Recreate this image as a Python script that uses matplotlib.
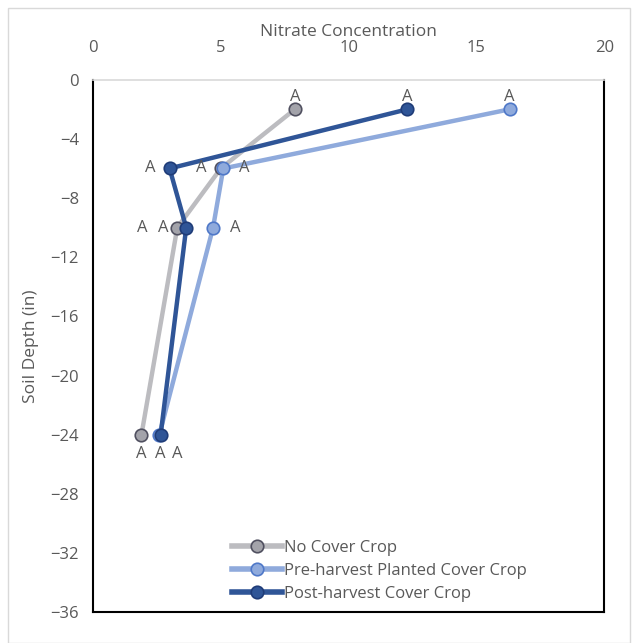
import matplotlib.pyplot as plt
from matplotlib.patches import Rectangle

# soil depth (in) and nitrate concentration for each treatment
depth = [-2, -6, -10, -24]
no_cover = [7.9, 5.0, 3.3, 1.9]
pre_harvest = [16.3, 5.1, 4.7, 2.6]
post_harvest = [12.3, 3.0, 3.65, 2.65]

series_names = ["No Cover Crop", "Pre-harvest Planted Cover Crop", "Post-harvest Cover Crop"]
letters = ["A", "A", "A", "A"]

text_color = "#595959"
plt.rcParams['font.family'] = ['Open Sans', 'DejaVu Sans']

fig = plt.figure(figsize=(6.32, 6.43), dpi=100)
ax = fig.add_axes([0.147, 0.048, 0.809, 0.828])

fig.patches.append(Rectangle((0.012, 0.0), 0.985, 0.987, transform=fig.transFigure,
                             fill=False, edgecolor="#d9d9d9", linewidth=1))

ax.plot(no_cover, depth, color="#bcbcc0", linewidth=3.2, marker="o", markersize=9,
        markerfacecolor="#a3a3aa", markeredgecolor="#505060", markeredgewidth=1.2,
        label=series_names[0], zorder=3)
ax.plot(pre_harvest, depth, color="#8faadc", linewidth=3.2, marker="o", markersize=9,
        markerfacecolor="#8faadc", markeredgecolor="#4f78c8", markeredgewidth=1.2,
        label=series_names[1], zorder=4)
ax.plot(post_harvest, depth, color="#2f5597", linewidth=3.2, marker="o", markersize=9,
        markerfacecolor="#2f5597", markeredgecolor="#1f3c78", markeredgewidth=1.2,
        label=series_names[2], zorder=5)

lab = dict(color=text_color, fontsize=12, zorder=6)
# -2 in: letters above markers
for xs in (no_cover, pre_harvest, post_harvest):
    ax.annotate(letters[0], (xs[0], depth[0]), xytext=(0, 3), textcoords="offset points",
                ha="center", va="bottom", **lab)
# -6 in
ax.annotate(letters[1], (post_harvest[1], depth[1]), xytext=(-14, 0), textcoords="offset points",
            ha="center", va="center", **lab)
ax.annotate(letters[1], (no_cover[1], depth[1]), xytext=(-14, 0), textcoords="offset points",
            ha="center", va="center", **lab)
ax.annotate(letters[1], (pre_harvest[1], depth[1]), xytext=(15, 0), textcoords="offset points",
            ha="center", va="center", **lab)
# -10 in
ax.annotate(letters[2], (no_cover[2], depth[2]), xytext=(-10, 0), textcoords="offset points",
            ha="center", va="center", **lab)
ax.annotate(letters[2], (post_harvest[2], depth[2]), xytext=(-32, 0), textcoords="offset points",
            ha="center", va="center", **lab)
ax.annotate(letters[2], (pre_harvest[2], depth[2]), xytext=(16, 0), textcoords="offset points",
            ha="center", va="center", **lab)
# -24 in: letters below
for off, xs in zip((0, 0, 12), (no_cover, post_harvest, post_harvest)):
    ax.annotate(letters[3], (xs[3], depth[3]), xytext=(off, -8), textcoords="offset points",
                ha="center", va="top", **lab)

ax.set_xlim(0, 20)
ax.set_ylim(-36, 0)
ax.set_xticks(range(0, 21, 5))
ax.set_yticks(range(-36, 1, 4))
ax.xaxis.tick_top()
ax.set_xlabel("Nitrate Concentration", color=text_color, fontsize=12.5)
ax.xaxis.set_label_coords(0.5, 1.105)
ax.set_ylabel("Soil Depth (in)", color=text_color, fontsize=12.5)
ax.yaxis.set_label_coords(-0.105, 0.5)
ax.tick_params(length=0, labelsize=12, labelcolor=text_color)
ax.tick_params(axis="x", pad=17)
ax.tick_params(axis="y", pad=10)

for side in ("left", "bottom", "right"):
    ax.spines[side].set_color("black")
    ax.spines[side].set_linewidth(1.5)
ax.spines["top"].set_color("#d9d9d9")
ax.spines["top"].set_linewidth(1.2)

leg = ax.legend(loc="lower center", bbox_to_anchor=(0.56, 0.0), frameon=False,
                fontsize=12, handlelength=3.0, handletextpad=0.1, labelspacing=0.42,
                labelcolor=text_color, borderaxespad=0.2)
for line in leg.get_lines():
    line.set_linewidth(4)

fig.savefig("out.png", dpi=100)
